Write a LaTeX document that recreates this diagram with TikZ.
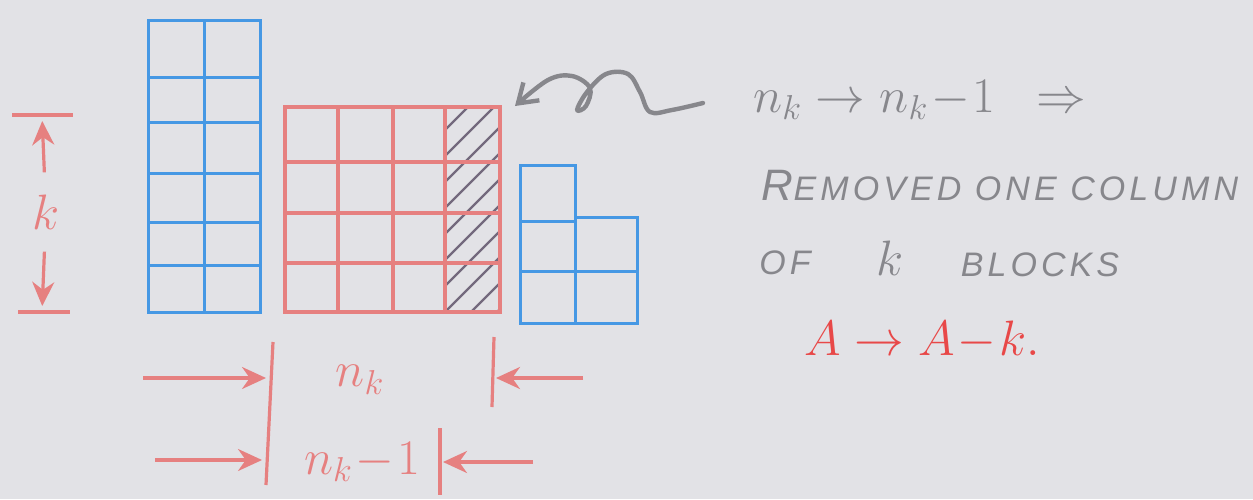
\documentclass[tikz,border=0pt]{standalone}
\usepackage{fontspec}
\setsansfont{Liberation Sans}
\usetikzlibrary{arrows.meta}
\definecolor{paper}{RGB}{226,226,230}
\definecolor{gblue}{RGB}{70,152,228}
\definecolor{gred}{RGB}{230,128,128}
\definecolor{hatchc}{RGB}{115,105,125}
\definecolor{pencil}{RGB}{135,135,140}
\definecolor{ink}{RGB}{232,72,72}
\begin{document}
\begin{tikzpicture}[x=0.5pt,y=-0.5pt,
  bluegrid/.style={draw=gblue,line width=1.5pt},
  redgrid/.style={draw=gred,line width=2.4pt},
  hatchline/.style={draw=hatchc,line width=1.1pt},
  dimline/.style={draw=gred,line width=1.6pt},
  dimarrow/.style={draw=gred,line width=1.6pt,-{Stealth[length=12pt,width=11pt]}},
  pencilline/.style={draw=pencil,line width=2.2pt,line cap=round,line join=round},
  lbl/.style={inner sep=0pt},
  hand/.style={lbl,text=pencil,font=\sffamily\itshape\fontsize{17}{20}\selectfont\addfontfeature{LetterSpace=12}}
]
\fill[paper] (0,0) rectangle (1253,499);
\useasboundingbox (0,0) rectangle (1253,499);

% left blue grid (2 x 6)
\draw[bluegrid] (148,20) rectangle (260,312);
\draw[bluegrid] (204,20) -- (204,312);
\foreach \yy in {77,122,173,222,265} \draw[bluegrid] (148,\yy) -- (260,\yy);

% red grid (4 x 4) with hatched last column
\begin{scope}
  \clip (445,107) rectangle (500,312);
  \foreach \yy in {130,156,...,390} \draw[hatchline] (445,\yy) -- (505,\yy-60);
\end{scope}
\draw[redgrid] (285,107) rectangle (500,312);
\foreach \xx in {338,393,445} \draw[redgrid] (\xx,107) -- (\xx,312);
\foreach \yy in {162,213,263} \draw[redgrid] (285,\yy) -- (500,\yy);

% small blue grid
\draw[bluegrid] (520,165) rectangle (575,323);
\draw[bluegrid] (575,217) rectangle (637,323);
\draw[bluegrid] (520,221) -- (575,221);
\draw[bluegrid] (520,271) -- (637,271);

% left dimension k
\coordinate (kt) at (42,115);
\coordinate (kb) at (42,312);
\draw[dimline] (12,115) -- (73,115);
\draw[dimline] (18,312) -- (70,312);
\node[lbl,text=gred,font=\fontsize{26}{28}\selectfont] (k) at (46,212) {$k$};
\draw[dimarrow,shorten <=11pt,shorten >=3pt] (k) -- (kt);
\draw[dimarrow,shorten <=11pt,shorten >=3pt] (k) -- (kb);

% bottom dimensions
\coordinate (b1t) at (273,342);
\coordinate (b1b) at (266,485);
\draw[dimline] (b1t) -- (b1b);
\coordinate (r1t) at (494,337);
\coordinate (r1b) at (492,407);
\draw[dimline] (r1t) -- (r1b);
\coordinate (r2t) at (440,428);
\coordinate (r2b) at (440,495);
\draw[dimline] (r2t) -- (r2b);

\coordinate (a1s) at (143,378);
\coordinate (a1e) at (266,378);
\coordinate (a2s) at (583,378);
\coordinate (a2e) at (496,378);
\coordinate (a3s) at (155,460);
\coordinate (a3e) at (262,460);
\coordinate (a4s) at (533,462);
\coordinate (a4e) at (443,462);
\draw[dimarrow] (a1s) -- (a1e);
\draw[dimarrow] (a2s) -- (a2e);
\draw[dimarrow] (a3s) -- (a3e);
\draw[dimarrow] (a4s) -- (a4e);

\node[lbl,text=gred,font=\fontsize{24}{26}\selectfont] (nk) at (360,380) {$n_k$};
\node[lbl,text=gred,font=\fontsize{24}{26}\selectfont] (nk1) at (362,462) {$n_k\!-\!1$};

% squiggle arrow
\draw[pencilline,-{Straight Barb[length=9pt,width=12pt]}]
  plot[smooth,tension=0.6] coordinates {(703,103) (672,110) (650,112) (640,92) (628,74) (606,74) (587,92) (577,110) (586,106) (590,88) (572,76) (548,80) (515,106)};

% right text
\node[lbl,text=pencil,font=\fontsize{27}{29}\selectfont] (eq) at (920,100) {$n_k \rightarrow n_k\!-\!1 \;\; \Rightarrow$};
\node[hand] (l1) at (1000,186) {{\fontsize{22}{24}\selectfont R}EMOVED ONE COLUMN};
\node[hand] (of) at (785,263) {OF};
\node[lbl,text=pencil,font=\fontsize{24}{26}\selectfont] (kk) at (890,258) {$k$};
\node[hand] (bl) at (1040,265) {BLOCKS};
\node[lbl,text=ink,font=\fontsize{31}{33}\selectfont] (red) at (922,340) {$A \rightarrow A\!-\!k.$};
\end{tikzpicture}
\end{document}
